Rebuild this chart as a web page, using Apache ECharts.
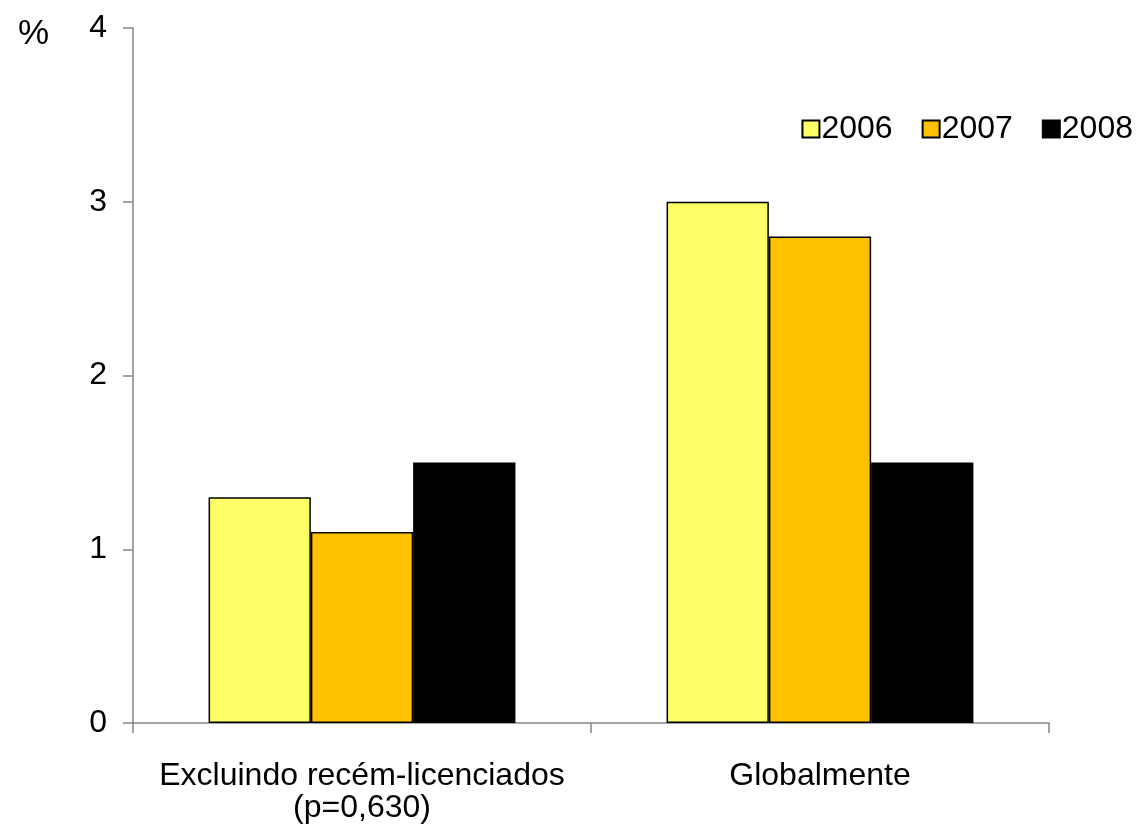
<!DOCTYPE html>
<html>
<head>
<meta charset="utf-8">
<script src="https://cdn.jsdelivr.net/npm/echarts@6/dist/echarts.min.js"></script>
<style>html,body{margin:0;padding:0;background:#fff}#c{width:1144px;height:825px}</style>
</head>
<body>
<div id="c"></div>
<script>
const categories = ['Excluindo recém-licenciados\n(p=0,630)', 'Globalmente'];
const years = ['2006', '2007', '2008'];
const values2006 = [1.3, 3.0];
const values2007 = [1.1, 2.8];
const values2008 = [1.5, 1.5];
const yTicks = [0, 1, 2, 3, 4];
const colors = ['#FFFF66', '#FFC000', '#000000'];

const FONT = 'Liberation Sans, Arial, sans-serif';
const chart = echarts.init(document.getElementById('c'));
const seriesData = [values2006, values2007, values2008];
chart.setOption({
  animation: false,
  backgroundColor: '#fff',
  title: {
    text: '%', left: 13, top: 12,
    textStyle: { fontFamily: FONT, fontSize: 35, fontWeight: 'normal', color: '#000' }
  },
  legend: {
    data: years,
    right: 6, top: 108,
    itemWidth: 17, itemHeight: 17, itemGap: 29,
    icon: 'rect',
    textStyle: { fontFamily: FONT, fontSize: 32, color: '#000', padding: [0, 0, 0, -3] }
  },
  grid: { left: 133, right: 95, top: 28, bottom: 102, containLabel: false },
  xAxis: {
    type: 'category',
    data: categories,
    axisLine: { lineStyle: { color: '#868686', width: 1.5 } },
    axisTick: { show: true, length: 10, lineStyle: { color: '#868686', width: 1.5 } },
    axisLabel: { interval: 0, fontFamily: FONT, fontSize: 32, color: '#000', margin: 37, lineHeight: 32 }
  },
  yAxis: {
    type: 'value',
    min: yTicks[0], max: yTicks[yTicks.length - 1], interval: 1,
    axisLine: { show: true, lineStyle: { color: '#868686', width: 1.5 } },
    axisTick: { show: true, length: 10, lineStyle: { color: '#868686', width: 1.5 } },
    splitLine: { show: false },
    axisLabel: { fontFamily: FONT, fontSize: 32, color: '#000', margin: 26 }
  },
  series: years.map((y, i) => ({
    name: y,
    type: 'bar',
    data: seriesData[i],
    barGap: '0%',
    barCategoryGap: '33%',
    itemStyle: { color: colors[i], borderColor: '#000', borderWidth: 1.5 }
  }))
});
</script>
</body>
</html>
